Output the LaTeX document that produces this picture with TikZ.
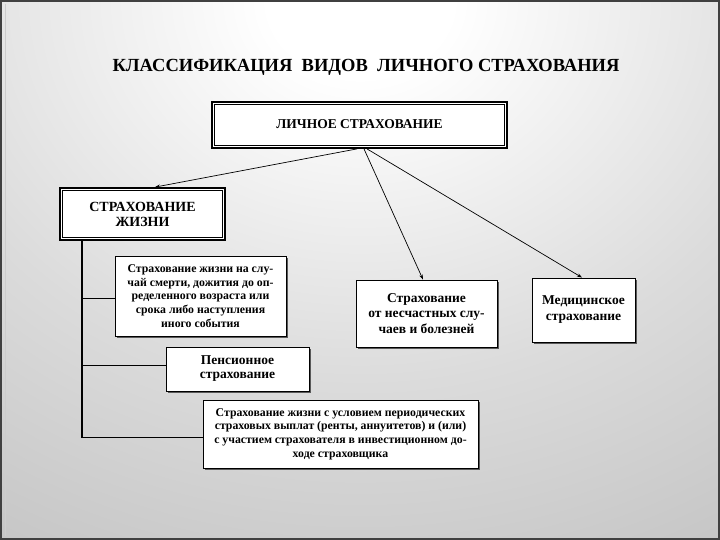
\documentclass[tikz,border=0pt]{standalone}
\usepackage{fontspec}
\setmainfont{Liberation Serif}
\newfontfamily\tnr{Liberation Serif}
\usetikzlibrary{shadows,arrows.meta}
\pgfdeclareradialshading{bgshade}{\pgfpoint{0bp}{0bp}}{color(0bp)=(white); color(3bp)=(white); color(15bp)=(black!14); color(25bp)=(black!23); color(33bp)=(black!30); color(42bp)=(black!37); color(50bp)=(black!42)}
\begin{document}
\begin{tikzpicture}[x=1pt,y=-1pt,
  basebox/.style={fill=white, align=center, inner sep=0pt, font=\tnr\bfseries\fontsize{11.8}{13.6}\selectfont},
  sbox/.style={basebox, draw=black, line width=0.9pt,
    drop shadow={shadow xshift=1.6pt, shadow yshift=-1.6pt, fill=black!65, opacity=1}},
  dbox/.style={basebox, draw=black, line width=1.8pt, font=\tnr\bfseries\fontsize{14}{15}\selectfont},
  bigtext/.style={font=\tnr\bfseries\fontsize{13.5}{#1}\selectfont},
  inframe/.style={draw=black, line width=0.7pt},
  arr/.style={-{Stealth[length=5pt,width=3.5pt]}, line width=0.7pt},
  trunk/.style={line width=1.6pt},
  branch/.style={line width=0.7pt}]
% background
\fill[black!42] (0,0) rectangle (720,540);
\begin{scope}
  \clip (0,0) rectangle (720,540);
  \shade[shading=bgshade] (360,0) ellipse (760 and 640);
\end{scope}
\draw[white!80!black, line width=0.8pt] (5,4) -- (5,536);
\draw[black!75, line width=2pt] (1,1) rectangle (719,539);
\useasboundingbox (0,0) rectangle (720,540);

% title
\node[font=\tnr\bfseries\fontsize{18.5}{20}\selectfont] (title) at (366,67) {КЛАССИФИКАЦИЯ\ \ ВИДОВ\ \ ЛИЧНОГО СТРАХОВАНИЯ};

% boxes
\node[dbox, minimum width=295pt, minimum height=46pt, font=\tnr\bfseries\fontsize{13.5}{14}\selectfont] (top) at (359.5,125) {\raisebox{2pt}{ЛИЧНОЕ СТРАХОВАНИЕ}};
\draw[inframe] ([shift={(3.5pt,-3.5pt)}]top.north west) rectangle ([shift={(-3.5pt,3.5pt)}]top.south east);

\node[dbox, minimum width=165pt, minimum height=52pt] (life) at (142.5,214) {СТРАХОВАНИЕ\\ЖИЗНИ};
\draw[inframe] ([shift={(3.5pt,-3.5pt)}]life.north west) rectangle ([shift={(-3.5pt,3.5pt)}]life.south east);

\node[sbox, minimum width=171pt, minimum height=80pt] (death) at (200.5,296)
  {Страхование жизни на слу-\\чай смерти, дожития до оп-\\ределенного возраста или\\срока либо наступления\\иного события};
\node[sbox, bigtext=14, minimum width=143pt, minimum height=44pt] (pension) at (237.5,369)
  {Пенсионное\\страхование};
\node[sbox, minimum width=275pt, minimum height=68pt] (annuity) at (340.5,434)
  {Страхование жизни с условием периодических\\страховых выплат (ренты, аннуитетов) и (или)\\с участием страхователя в инвестиционном до-\\ходе страховщика};
\node[sbox, bigtext=15.2, minimum width=141pt, minimum height=67pt] (accident) at (426.5,313.5)
  {Страхование\\от несчастных слу-\\чаев и болезней};
\node[sbox, bigtext=16, minimum width=103pt, minimum height=64pt] (medical) at (583.5,310)
  {Медицинское\\страхование};

% arrows
\draw[arr] ([xshift=-2.5pt]top.south) -- ([xshift=12.5pt]life.north);
\draw[arr] ([xshift=4.5pt]top.south) -- ([xshift=-3.5pt]accident.north);
\draw[arr] ([xshift=7.5pt]top.south) -- ([xshift=-1.5pt]medical.north);

% tree
\coordinate (t0) at (82,240);
\coordinate (t1) at (82,298);
\coordinate (t2) at (82,365);
\coordinate (t3) at (82,437);
\draw[trunk] (t0) -- ([yshift=-0.8pt]t3);
\draw[branch] (t1) -- (t1 -| death.west);
\draw[branch] (t2) -- (t2 -| pension.west);
\draw[branch] (t3) -- (t3 -| annuity.west);
\end{tikzpicture}
\end{document}
